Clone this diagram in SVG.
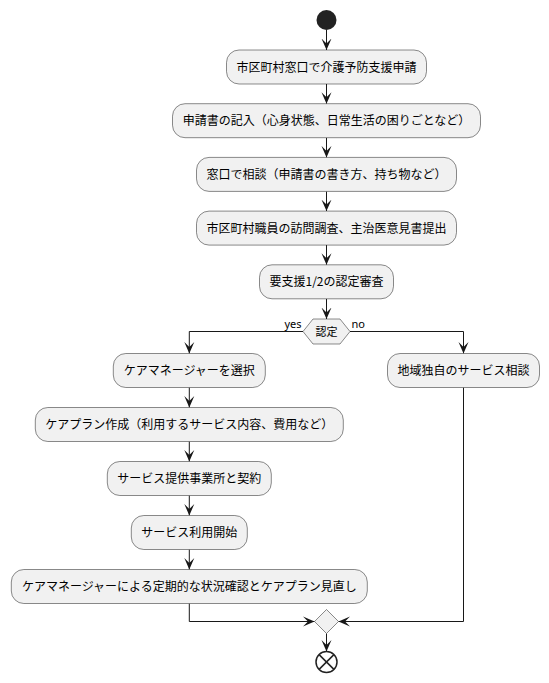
<svg xmlns="http://www.w3.org/2000/svg" width="549" height="683" viewBox="0 0 549 683">
<style>
.box{fill:#F1F1F1;stroke:#181818;stroke-width:0.5}
.t{font-family:"Noto Sans CJK JP","Noto Sans",sans-serif;font-size:12px;fill:#000;text-anchor:middle}
.lbl{font-family:"Noto Sans","DejaVu Sans",sans-serif;font-size:11px;fill:#000}
.ln{fill:none;stroke:#181818;stroke-width:1}
</style>
<defs>
<marker id="ah" markerUnits="userSpaceOnUse" markerWidth="12" markerHeight="11" viewBox="0 0 12 11" refX="11.5" refY="5.5" orient="auto">
<path d="M0,0.5 L11.5,5.5 L0,10.5 L5,5.5 Z" fill="#181818"/>
</marker>
</defs>
<rect width="549" height="683" fill="#FFFFFF"/>
<g id="connectors">
<line class="ln" x1="326.5" y1="30" x2="326.5" y2="50" marker-end="url(#ah)"/>
<line class="ln" x1="326.5" y1="84" x2="326.5" y2="103.7" marker-end="url(#ah)"/>
<line class="ln" x1="326.5" y1="137.7" x2="326.5" y2="157.4" marker-end="url(#ah)"/>
<line class="ln" x1="326.5" y1="191.4" x2="326.5" y2="211.1" marker-end="url(#ah)"/>
<line class="ln" x1="326.5" y1="245.1" x2="326.5" y2="264.8" marker-end="url(#ah)"/>
<line class="ln" x1="326.5" y1="298.8" x2="326.5" y2="319" marker-end="url(#ah)"/>
<polyline class="ln" points="303,331.5 189.3,331.5 189.3,353.5" marker-end="url(#ah)"/>
<polyline class="ln" points="350,331.5 463.5,331.5 463.5,353.5" marker-end="url(#ah)"/>
<line class="ln" x1="189.3" y1="387.5" x2="189.3" y2="407.5" marker-end="url(#ah)"/>
<line class="ln" x1="189.3" y1="441.5" x2="189.3" y2="461.5" marker-end="url(#ah)"/>
<line class="ln" x1="189.3" y1="495.5" x2="189.3" y2="515.5" marker-end="url(#ah)"/>
<line class="ln" x1="189.3" y1="549.5" x2="189.3" y2="569.5" marker-end="url(#ah)"/>
<polyline class="ln" points="189.3,603.5 189.3,621.5 314.5,621.5" marker-end="url(#ah)"/>
<polyline class="ln" points="463.5,387.5 463.5,621.5 338.5,621.5" marker-end="url(#ah)"/>
<line class="ln" x1="326.5" y1="633.5" x2="326.5" y2="651.5" marker-end="url(#ah)"/>
<text class="lbl" x="301.5" y="328" text-anchor="end">yes</text>
<text class="lbl" x="351.5" y="328">no</text>
</g>
<g id="start"><circle cx="326.5" cy="20" r="10" fill="#222222"/></g>
<g id="n1"><rect class="box" x="226.5" y="50" width="200" height="34" rx="12.5"/><text class="t" x="326.5" y="71.5">市区町村窓口で介護予防支援申請</text></g>
<g id="n2"><rect class="box" x="172.5" y="103.7" width="308" height="34" rx="12.5"/><text class="t" x="326.5" y="125.2">申請書の記入（心身状態、日常生活の困りごとなど）</text></g>
<g id="n3"><rect class="box" x="196.5" y="157.4" width="260" height="34" rx="12.5"/><text class="t" x="326.5" y="178.9">窓口で相談（申請書の書き方、持ち物など）</text></g>
<g id="n4"><rect class="box" x="196.5" y="211.1" width="260" height="34" rx="12.5"/><text class="t" x="326.5" y="232.6">市区町村職員の訪問調査、主治医意見書提出</text></g>
<g id="n5"><rect class="box" x="259.5" y="264.8" width="134" height="34" rx="12.5"/><text class="t" x="326.5" y="286.3">要支援1/2の認定審査</text></g>
<g id="d1"><polygon class="box" points="303,331.5 313,319 340,319 350,331.5 340,344 313,344"/><text class="t" x="326.5" y="335.5" style="font-size:11px">認定</text></g>
<g id="l1"><rect class="box" x="113.3" y="353.5" width="152" height="34" rx="12.5"/><text class="t" x="189.3" y="375">ケアマネージャーを選択</text></g>
<g id="r1"><rect class="box" x="387.5" y="353.5" width="152" height="34" rx="12.5"/><text class="t" x="463.5" y="375">地域独自のサービス相談</text></g>
<g id="l2"><rect class="box" x="35.3" y="407.5" width="308" height="34" rx="12.5"/><text class="t" x="189.3" y="429">ケアプラン作成（利用するサービス内容、費用など）</text></g>
<g id="l3"><rect class="box" x="107.3" y="461.5" width="164" height="34" rx="12.5"/><text class="t" x="189.3" y="483">サービス提供事業所と契約</text></g>
<g id="l4"><rect class="box" x="131.3" y="515.5" width="116" height="34" rx="12.5"/><text class="t" x="189.3" y="537">サービス利用開始</text></g>
<g id="l5"><rect class="box" x="11.3" y="569.5" width="356" height="34" rx="12.5"/><text class="t" x="189.3" y="591">ケアマネージャーによる定期的な状況確認とケアプラン見直し</text></g>
<g id="merge"><polygon class="box" points="326.5,609.5 338.5,621.5 326.5,633.5 314.5,621.5"/></g>
<g id="end"><circle cx="326.5" cy="662" r="10.5" fill="none" stroke="#222222" stroke-width="1.5"/><line x1="319.1" y1="654.6" x2="333.9" y2="669.4" stroke="#222222" stroke-width="1.5"/><line x1="333.9" y1="654.6" x2="319.1" y2="669.4" stroke="#222222" stroke-width="1.5"/></g>
</svg>
